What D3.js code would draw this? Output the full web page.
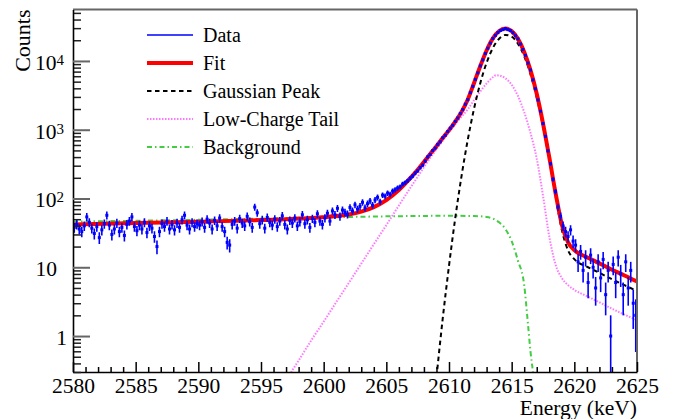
<!DOCTYPE html>
<html><head><meta charset="utf-8">
<script src="https://cdn.jsdelivr.net/npm/d3@7"></script>
<style>body{margin:0;background:#fff} text{font-family:"Liberation Serif","Times New Roman",serif}</style>
</head><body><svg id="c" width="684" height="419"></svg>
<script>
// ---------------- DATA ----------------
const xDomain = [2580, 2625];
const yDomain = [0.3, 56000];
const xMajorTicks = [2580, 2585, 2590, 2595, 2600, 2605, 2610, 2615, 2620, 2625];
const xMinorTicks = d3.range(2581, 2625, 1).filter(v => v % 5 !== 0);
const yMajorTicks = [1, 10, 100, 1000, 10000];
const yLabelBase = ["1", "10", "10", "10", "10"];
const yLabelExp = ["", "", "2", "3", "4"];
const yMinorTicks = [0.3,0.4,0.5,0.6,0.7,0.8,0.9, 2,3,4,5,6,7,8,9, 20,30,40,50,60,70,80,90,
  200,300,400,500,600,700,800,900, 2000,3000,4000,5000,6000,7000,8000,9000, 20000,30000,40000,50000];

// histogram: bin start, bin width, counts per bin
const binStart = 2580, binWidth = 0.2;
const dataCounts = [
 38,42,36,33,40,54,45,37,31,39, 27,35,43,57,41,30,36,44,33,38,
 29,42,47,54,39,34,41,36,45,32, 40,37,28,20,33,43,39,47,36,42,
 35,44,38,49,57,41,36,45,39,43,
 41,46,38,50,44,36,48,40,52,39, 33,23,21,42,47,37,51,44,40,55,
 46,38,75,62,43,49,37,53,45,41, 50,39,47,56,42,36,48,44,52,40,
 46,58,43,49,38,51,45,60,47,42,
 52,61,47,66,58,72,55,68,63,59, 74,66,81,70,77,88,73,84,92,80,
 95,104,90,112,108,120,115,128,134,142, 148,162,170,181,196,212,234,252,281,305,
 350,402,437,498,541,612,668,763,832,941,
 1052,1160,1321,1480,1715,1961,2350,2738,3460,4270,
 5390,6700,8480,10350,12820,15330,18150,21220,23550,25880,
 27740,28550,29600,28500,27680,25720,23310,20890,17650,14710,
 12040,9330,7390,5310,3940,2710,1860,1228,801,492,
 320,190,126,75,55,40,33,28,35,24,
 21,12,17,9,14,6,15,10,5,12, 7,13,4,9,1,11,6,14,8,4, 12,5,9,3,2
];

// Fit (total)
const fitE = [2580,2585,2590,2595,2597,2598,2599,2600,2601,2602,2603,2604,2605,2606,2607,2607.5,2608,2608.5,2609,2609.5,
  2610,2610.5,2611,2611.5,2612,2612.5,2613,2613.5,2614,2614.5,2615,2615.5,2616,2616.5,2617,2617.5,2618,2618.5,2619,2619.5,
  2620,2621,2622,2623,2624,2625];
const fitV = [42,44,46,48.5,50,51,52,53.6,55.5,58.7,64.5,75,95,133,206,262,340,445,575,757,
  986,1308,1818,2754,4786,8445,14174,21281,27235,29536,27164,20960,13535,7346,3333,1241,399,121,42,23.1,
  17.8,14,11.4,9.2,7.6,6.2];

// Gaussian peak
const gausE = [2608.5,2609,2609.5,2610,2610.5,2611,2611.5,2612,2612.5,2613,2613.5,2614,2614.5,2615,2615.5,2616,2616.5,2617,2617.5,2618,2618.5,2619,2619.5,2620,2621,2622,2623,2624,2625];
const gausV = [0.03,0.25,1.8,10.5,52,212,718,2030,4790,9420,15430,21040,23900,22650,17860,11750,6440,2950,1130,371,110,35,17.6,13.1,10.2,8.3,6.7,5.5,4.5];

// Low-charge tail
const tailE = [2597,2598,2599,2600,2601,2602,2603,2604,2605,2606,2607,2608,2608.5,2609,2609.5,2610,2610.5,2611,2611.5,2612,2612.5,2613,2613.5,2613.75,2614,2614.5,2615,2615.5,2616,2616.5,2617,2617.5,2618,2618.5,2619,2619.5,2620,2621,2622,2623,2624,2625];
const tailV = [0.23,0.44,0.86,1.62,3.1,5.9,11.3,21.6,41,79,151,285,390,520,700,920,1200,1550,1980,2700,3600,4700,5800,6200,6150,5600,4500,3100,1800,900,380,110,28,11,7,5.5,4.7,3.8,3.1,2.5,2.05,1.7];

// Background
const bkgE = [2580,2585,2590,2595,2600,2605,2610,2612,2613,2613.5,2614,2614.5,2615,2615.5,2616,2616.3,2616.5,2616.7,2617];
const bkgV = [46,47.5,49,51,53,55,56,55.5,54,51,45,36,24,12.5,5.5,1.5,0.6,0.3,0.1];

const legendLabels = ["Data", "Fit", "Gaussian Peak", "Low-Charge Tail", "Background"];

// ---------------- DRAW ----------------
const L = 73, R = 637, T = 9.5, B = 372;
const FONT = '"Liberation Serif","Times New Roman",serif';
const svg = d3.select("#c");
svg.append("rect").attr("width", 684).attr("height", 419).attr("fill", "#fff");

const x = d3.scaleLinear().domain(xDomain).range([L, R]);
const y = d3.scaleLog().domain(yDomain).range([B, T]);

svg.append("defs").append("clipPath").attr("id", "clip")
  .append("rect").attr("x", L).attr("y", T).attr("width", R - L).attr("height", B - T);
const plot = svg.append("g").attr("clip-path", "url(#clip)");

const line = d3.line().x(d => x(d[0])).y(d => y(d[1])).curve(d3.curveMonotoneX);
function curve(E, V, color, width, dash) {
  plot.append("path").datum(d3.zip(E, V)).attr("d", line)
    .attr("fill", "none").attr("stroke", color).attr("stroke-width", width)
    .attr("stroke-dasharray", dash || null);
}

const styles = {
  data: {color: "#0000ff", width: 1.5, dash: null},
  fit: {color: "#ff0000", width: 4, dash: null},
  gaus: {color: "#000000", width: 2, dash: "4.5,3.5"},
  tail: {color: "#ff77ff", width: 2, dash: "1.5,1.5"},
  bkg: {color: "#44cc44", width: 2, dash: "5,3,1.5,3"}
};

curve(bkgE, bkgV, styles.bkg.color, styles.bkg.width, styles.bkg.dash);
curve(tailE, tailV, styles.tail.color, styles.tail.width, styles.tail.dash);
curve(gausE, gausV, styles.gaus.color, styles.gaus.width, styles.gaus.dash);
curve(fitE, fitV, styles.fit.color, styles.fit.width, null);

const bins = dataCounts.map((n, i) => ({e: binStart + binWidth * (i + 0.5), n}));
plot.append("g").selectAll("line").data(bins).join("line")
  .attr("x1", d => x(d.e)).attr("x2", d => x(d.e))
  .attr("y1", d => y(d.n + Math.sqrt(d.n)))
  .attr("y2", d => (d.n - Math.sqrt(d.n)) > 0 ? y(d.n - Math.sqrt(d.n)) : B + 5)
  .attr("stroke", styles.data.color).attr("stroke-width", 1.6);
plot.append("g").selectAll("rect").data(bins).join("rect")
  .attr("x", d => x(d.e) - 1.5).attr("y", d => y(d.n) - 1.5)
  .attr("width", 3).attr("height", 3).attr("fill", styles.data.color);

// frame top/right
svg.append("line").attr("x1", L).attr("x2", R).attr("y1", T).attr("y2", T).attr("stroke", "#666").attr("stroke-width", 2);
svg.append("line").attr("x1", R).attr("x2", R).attr("y1", T).attr("y2", B).attr("stroke", "#666").attr("stroke-width", 2);

// x axis
const gxm = svg.append("g").attr("transform", `translate(0,${B})`)
  .call(d3.axisBottom(x).tickValues(xMinorTicks).tickSize(-5).tickSizeOuter(0).tickFormat(""));
gxm.selectAll(".tick line").attr("stroke", "#000").attr("stroke-width", 1.5);
gxm.select(".domain").remove();
const gx = svg.append("g").attr("transform", `translate(0,${B})`)
  .call(d3.axisBottom(x).tickValues(xMajorTicks).tickSize(-10).tickSizeOuter(0).tickPadding(6).tickFormat(d3.format("d")));
gx.attr("font-family", FONT).attr("font-size", 21.5);
gx.select(".domain").attr("stroke", "#000").attr("stroke-width", 1.6);
gx.selectAll(".tick line").attr("stroke", "#000").attr("stroke-width", 1.5);
gx.selectAll(".tick text").attr("fill", "#000");

// y axis
const gym = svg.append("g").attr("transform", `translate(${L},0)`)
  .call(d3.axisLeft(y).tickValues(yMinorTicks).tickSize(-8).tickSizeOuter(0).tickFormat(""));
gym.selectAll(".tick line").attr("stroke", "#222").attr("stroke-width", 1.5);
gym.select(".domain").remove();
const gy = svg.append("g").attr("transform", `translate(${L},0)`)
  .call(d3.axisLeft(y).tickValues(yMajorTicks).tickSize(-17).tickSizeOuter(0).tickFormat(""));
gy.select(".domain").attr("stroke", "#000").attr("stroke-width", 1.6);
gy.selectAll(".tick line").attr("stroke", "#666").attr("stroke-width", 2);

yMajorTicks.forEach((v, i) => {
  const ty = y(v);
  const hasExp = yLabelExp[i] !== "";
  const endX = hasExp ? 64 : (v >= 10 ? 57 : 67);
  const t = svg.append("text").attr("x", endX).attr("y", ty + 9)
    .attr("text-anchor", "end").attr("font-size", 21.5).attr("font-family", FONT).attr("fill", "#000");
  t.append("tspan").text(yLabelBase[i]);
  if (hasExp) t.append("tspan").attr("font-size", 15).attr("dy", -5).text(yLabelExp[i]);
});

// axis titles
svg.append("text").attr("x", R).attr("y", 415).attr("text-anchor", "end")
  .attr("font-size", 21.5).attr("font-family", FONT).attr("fill", "#000").text("Energy (keV)");
svg.append("text").attr("transform", `translate(30,${T}) rotate(-90)`).attr("text-anchor", "end")
  .attr("font-size", 22).attr("font-family", FONT).attr("fill", "#000").text("Counts");

// legend
const legendStyles = [styles.data, styles.fit, styles.gaus, styles.tail, styles.bkg];
const legY = d3.scalePoint().domain(legendLabels).range([35, 147]);
legendLabels.forEach((lab, i) => {
  const s = legendStyles[i];
  const yy = legY(lab);
  svg.append("line").attr("x1", 147).attr("x2", 193).attr("y1", yy).attr("y2", yy)
    .attr("stroke", s.color).attr("stroke-width", s.width).attr("stroke-dasharray", s.dash);
  svg.append("text").attr("x", 203).attr("y", yy + 6.5).attr("font-size", 20)
    .attr("font-family", FONT).attr("fill", "#000").text(lab);
});
</script></body></html>
